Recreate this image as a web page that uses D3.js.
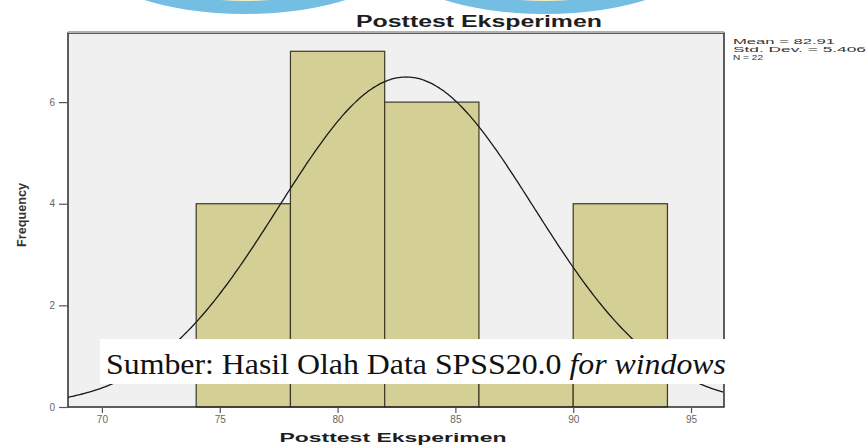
<!DOCTYPE html>
<html>
<head>
<meta charset="utf-8">
<script src="https://cdn.jsdelivr.net/npm/d3@7"></script>
<style>
  body { margin: 0; background: #fff; }
  svg { display: block; }
</style>
</head>
<body>
<div id="chart"></div>
<script>
// histogram bins (lower edge, upper edge) and counts
var binStarts = [74, 78, 82, 86, 90];
var binEnds = [78, 82, 86, 90, 94];
var counts = [4, 7, 6, 1, 4];
var xTicks = [70, 75, 80, 85, 90, 95];
var yTicks = [0, 2, 4, 6];
var statLabels = ["Mean = 82.91", "Std. Dev. = 5.406", "N = 22"];
var statWidths = [102, 133, 30];
var mean = 82.91, stdDev = 5.406, n = 22, binWidth = 4;

var width = 867, height = 448;
var margin = {left: 68, right: 143, top: 33, bottom: 41};

var svg = d3.select("#chart").append("svg")
    .attr("width", width)
    .attr("height", height);

// logo remnant at the top edge
var logo = svg.append("g");
[245, 545].forEach(function (cx) {
    logo.append("ellipse")
        .attr("cx", cx).attr("cy", -42)
        .attr("rx", 152).attr("ry", 56)
        .style("fill", "#74bde3");
    logo.append("ellipse")
        .attr("cx", cx).attr("cy", -45)
        .attr("rx", 128).attr("ry", 46)
        .style("fill", "#f5eec4");
});

var x = d3.scaleLinear()
    .domain([68.56, 96.4])
    .range([margin.left, width - margin.right]);

var y = d3.scaleLinear()
    .domain([0, 7.36])
    .range([height - margin.bottom, margin.top]);

// plot background
svg.append("rect")
    .attr("x", margin.left)
    .attr("y", margin.top)
    .attr("width", width - margin.right - margin.left)
    .attr("height", height - margin.bottom - margin.top)
    .style("fill", "#f0f0f0");

var bars = svg.selectAll(".bar")
    .data(counts)
    .enter().append("rect")
    .attr("class", "bar")
    .attr("x", function (d, i) { return x(binStarts[i]); })
    .attr("y", function (d) { return y(d); })
    .attr("width", function (d, i) { return x(binEnds[i]) - x(binStarts[i]); })
    .attr("height", function (d) { return y(0) - y(d); })
    .style("fill", "#d4cf95")
    .style("stroke", "#3c3a24")
    .style("stroke-width", 1.2);

// normal curve from the reported mean and sd
var curveX = d3.range(68.56, 96.41, 0.1);
var scaleN = n * binWidth / (stdDev * Math.sqrt(2 * Math.PI));
var line = d3.line()
    .x(function (d) { return x(d); })
    .y(function (d) { return y(scaleN * Math.exp(-0.5 * Math.pow((d - mean) / stdDev, 2))); })
    .curve(d3.curveBasis);

svg.append("path")
    .datum(curveX)
    .attr("d", line)
    .style("fill", "none")
    .style("stroke", "#1a1a1a")
    .style("stroke-width", 1.3);

// frame
svg.append("rect")
    .attr("x", margin.left)
    .attr("y", margin.top)
    .attr("width", width - margin.right - margin.left)
    .attr("height", height - margin.bottom - margin.top)
    .style("fill", "none")
    .style("stroke", "#2b2b2b")
    .style("stroke-width", 1.5);
svg.append("line")
    .attr("x1", margin.left).attr("x2", width - margin.right)
    .attr("y1", margin.top - 1).attr("y2", margin.top - 1)
    .style("stroke", "#b0b0b0")
    .style("stroke-width", 2);

var xAxis = svg.append("g")
    .attr("transform", "translate(0," + (height - margin.bottom) + ")")
    .call(d3.axisBottom(x).tickValues(xTicks).tickSize(6).tickPadding(3));
var yAxis = svg.append("g")
    .attr("transform", "translate(" + margin.left + ",0)")
    .call(d3.axisLeft(y).tickValues(yTicks).tickSize(9).tickPadding(4));

[xAxis, yAxis].forEach(function (ax) {
    ax.select(".domain").remove();
    ax.selectAll("line").style("stroke", "#555").style("stroke-width", 1.2);
    ax.selectAll("text")
        .style("font-family", "Arial, 'Liberation Sans', sans-serif")
        .style("font-size", "10px")
        .style("fill", "#666");
});

// titles
svg.append("text")
    .attr("x", 479)
    .attr("y", 27)
    .attr("text-anchor", "middle")
    .attr("textLength", 246)
    .attr("lengthAdjust", "spacingAndGlyphs")
    .style("font-family", "Arial, 'Liberation Sans', sans-serif")
    .style("font-weight", "bold")
    .style("font-size", "16px")
    .style("fill", "#1e1e1e")
    .text("Posttest Eksperimen");

svg.append("text")
    .attr("x", 393)
    .attr("y", 442)
    .attr("text-anchor", "middle")
    .attr("textLength", 227)
    .attr("lengthAdjust", "spacingAndGlyphs")
    .style("font-family", "Arial, 'Liberation Sans', sans-serif")
    .style("font-weight", "bold")
    .style("font-size", "13px")
    .style("fill", "#1e1e1e")
    .text("Posttest Eksperimen");

svg.append("text")
    .attr("transform", "translate(26,215) rotate(-90)")
    .attr("text-anchor", "middle")
    .attr("textLength", 64)
    .attr("lengthAdjust", "spacingAndGlyphs")
    .style("font-family", "Arial, 'Liberation Sans', sans-serif")
    .style("font-weight", "bold")
    .style("font-size", "12px")
    .style("fill", "#333")
    .text("Frequency");

// stats legend
svg.selectAll(".stat")
    .data(statLabels)
    .enter().append("text")
    .attr("class", "stat")
    .attr("x", 733)
    .attr("y", function (d, i) { return 44 + i * 8; })
    .attr("textLength", function (d, i) { return statWidths[i]; })
    .attr("lengthAdjust", "spacingAndGlyphs")
    .style("font-family", "Arial, 'Liberation Sans', sans-serif")
    .style("font-size", "8px")
    .style("fill", "#333")
    .text(function (d) { return d; });

// source note box
svg.append("rect")
    .attr("x", 100).attr("y", 339)
    .attr("width", 637).attr("height", 45)
    .style("fill", "#fff");

var note = svg.append("text")
    .attr("x", 106)
    .attr("y", 374)
    .attr("textLength", 620)
    .attr("lengthAdjust", "spacingAndGlyphs")
    .style("font-family", "'Liberation Serif', 'Times New Roman', serif")
    .style("font-size", "30px")
    .style("fill", "#111");
note.append("tspan").text("Sumber: Hasil Olah Data SPSS20.0 ");
note.append("tspan").style("font-style", "italic").text("for windows");
</script>
</body>
</html>
